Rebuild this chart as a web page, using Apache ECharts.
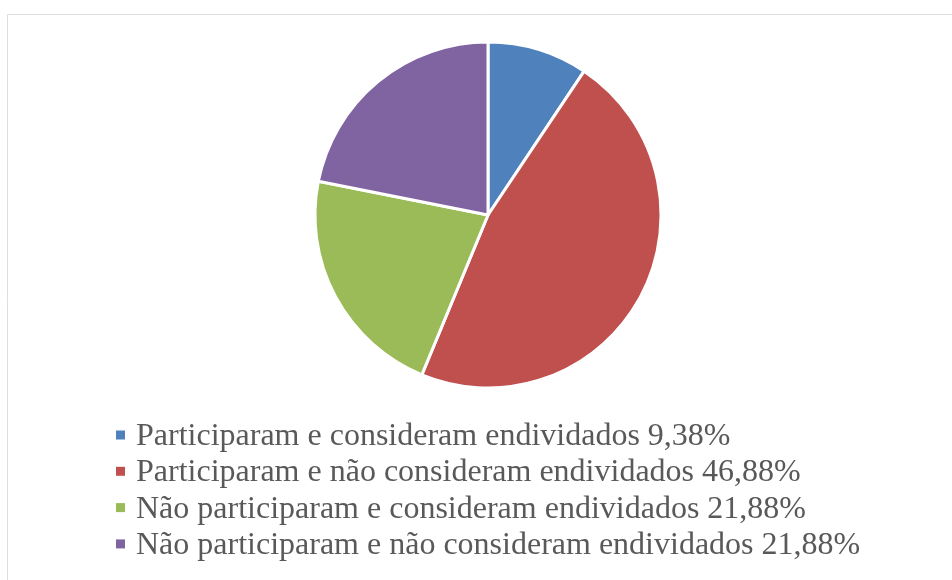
<!DOCTYPE html>
<html>
<head>
<meta charset="utf-8">
<script src="https://cdn.jsdelivr.net/npm/echarts@6/dist/echarts.min.js"></script>
<style>
  html, body { margin: 0; padding: 0; background: #fff; }
  #pie { width: 952px; height: 580px; }
</style>
</head>
<body>
<div id="pie"></div>
<script>
var categorias = [
    'Participaram e consideram endividados',
    'Participaram e não consideram endividados',
    'Não participaram e consideram endividados',
    'Não participaram e não consideram endividados'
];
var percentuais = [9.38, 46.88, 21.88, 21.88];
var cores = ['#4F81BD', '#C0504D', '#9BBB59', '#8064A2'];

var myChart = echarts.init(document.getElementById('pie'));

var dados = categorias.map(function (nome, i) {
    return { name: nome, value: percentuais[i], itemStyle: { color: cores[i] } };
});

// legenda desenhada à mão, uma linha por categoria
var legenda = [];
categorias.forEach(function (nome, i) {
    var y = 436.5 + i * 36.3;
    legenda.push({
        type: 'rect', silent: true,
        shape: { x: 116, y: y - 6, width: 9, height: 9 },
        style: { fill: cores[i] }
    });
    legenda.push({
        type: 'text', silent: true, x: 136, y: y,
        style: {
            text: nome + ' ' + percentuais[i].toFixed(2).replace('.', ',') + '%',
            font: '32px Liberation Serif',
            fill: '#595959',
            verticalAlign: 'middle'
        }
    });
});

var option = {
    backgroundColor: '#fff',
    animation: false,
    graphic: [{
        type: 'rect',
        shape: { x: 7.5, y: 14.5, width: 1000, height: 700 },
        style: { fill: 'none', stroke: '#dedede', lineWidth: 1 },
        silent: true
    }].concat(legenda),
    series: [{
        type: 'pie',
        center: [488, 215],
        radius: [0, 173],
        startAngle: 90,
        clockwise: true,
        label: { show: false },
        labelLine: { show: false },
        itemStyle: { borderColor: '#fff', borderWidth: 3 },
        emphasis: { disabled: true },
        data: dados
    }]
};

myChart.setOption(option);
</script>
</body>
</html>
